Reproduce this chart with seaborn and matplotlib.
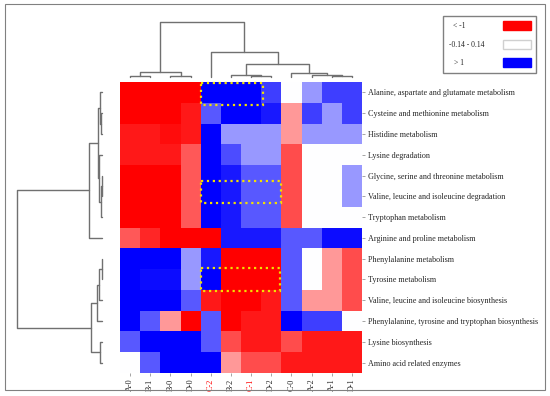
import numpy as np
import pandas as pd
import matplotlib
matplotlib.use("Agg")
import matplotlib.pyplot as plt
import seaborn as sns
from matplotlib.colors import LinearSegmentedColormap
from matplotlib.patches import Patch, Rectangle

sns.set_style("white")
plt.rcParams["font.family"] = ["Liberation Serif", "DejaVu Serif"]

col_labels = ["A-0", "B-1", "B-0", "D-0", "C-2", "B-2", "C-1", "D-2", "C-0", "A-2", "A-1", "D-1"]
red_cols = ["C-2", "C-1"]
row_labels = [
    "Alanine, aspartate and glutamate metabolism",
    "Cysteine and methionine metabolism",
    "Histidine metabolism",
    "Lysine degradation",
    "Glycine, serine and threonine metabolism",
    "Valine, leucine and isoleucine degradation",
    "Tryptophan metabolism",
    "Arginine and proline metabolism",
    "Phenylalanine metabolism",
    "Tyrosine metabolism",
    "Valine, leucine and isoleucine biosynthesis",
    "Phenylalanine, tyrosine and tryptophan biosynthesis",
    "Lysine biosynthesis",
    "Amino acid related enzymes",
]
values = [
    [-1, -1, -1, -1, 1, 1, 1, 0.75, 0, 0.4, 0.75, 0.75],
    [-1, -1, -1, -0.9, 0.65, 1, 1, 0.9, -0.4, 0.75, 0.4, 0.75],
    [-0.9, -0.9, -0.95, -0.9, 1, 0.4, 0.4, 0.4, -0.4, 0.4, 0.4, 0.4],
    [-0.9, -0.9, -0.9, -0.65, 1, 0.7, 0.4, 0.4, -0.7, 0, 0, 0],
    [-1, -1, -1, -0.65, 1, 0.9, 0.65, 0.65, -0.7, 0, 0, 0.4],
    [-1, -1, -1, -0.65, 1, 0.9, 0.65, 0.65, -0.7, 0, 0, 0.4],
    [-1, -1, -1, -0.65, 1, 0.9, 0.65, 0.65, -0.7, 0, 0, 0],
    [-0.65, -0.85, -1, -1, -1, 0.9, 0.9, 0.9, 0.65, 0.65, 0.95, 0.95],
    [1, 1, 1, 0.4, 0.9, -1, -1, -1, 0.65, 0, -0.4, -0.7],
    [1, 0.95, 0.95, 0.4, 1, -1, -1, -1, 0.65, 0, -0.4, -0.7],
    [1, 1, 1, 0.65, -0.9, -1, -1, -0.9, 0.65, -0.4, -0.4, -0.7],
    [1, 0.65, -0.4, -1, 0.65, -1, -0.9, -0.9, 1, 0.75, 0.75, 0],
    [0.65, 1, 1, 1, 0.65, -0.7, -0.9, -0.9, -0.7, -0.9, -0.9, -0.9],
    [0, 0.65, 1, 1, 1, -0.4, -0.7, -0.7, -0.9, -0.9, -0.9, -0.9],
]

# linkage: (child a, child b, height), new cluster ids continue after the leaves
row_merges = [
    (1, 2, 0.01), (0, 14, 0.02), (4, 5, 0.005), (16, 6, 0.015), (3, 17, 0.03),
    (15, 18, 0.05), (19, 7, 0.15), (8, 9, 0.005), (21, 10, 0.035), (22, 11, 0.06),
    (12, 13, 0.02), (23, 24, 0.13), (20, 25, 1.0),
]
col_merges = [
    (0, 1, 0.01), (2, 3, 0.01), (12, 13, 0.09), (6, 7, 0.02), (5, 15, 0.04),
    (10, 11, 0.02), (9, 17, 0.04), (8, 18, 0.08), (16, 19, 0.24), (4, 20, 0.45),
    (14, 21, 1.0),
]

legend_labels = ["< -1", "-0.14 - 0.14", "> 1"]


def dendro_lines(merges, n):
    pos = {i: i + 0.5 for i in range(n)}
    hgt = {i: 0.0 for i in range(n)}
    segs = []
    for k, (a, b, h) in enumerate(merges):
        segs.append(([pos[a], pos[a], pos[b], pos[b]], [hgt[a], h, h, hgt[b]]))
        pos[n + k] = (pos[a] + pos[b]) / 2
        hgt[n + k] = h
    return segs


W, H = 550, 396
fig = plt.figure(figsize=(W / 100, H / 100), dpi=100)

df = pd.DataFrame(values, index=row_labels, columns=col_labels)
cmap = LinearSegmentedColormap.from_list("rwb", ["#ff0000", "#ffffff", "#0000ff"])

ax = fig.add_axes([120 / W, 23 / H, 242 / W, 291 / H])
sns.heatmap(df, ax=ax, cmap=cmap, vmin=-1, vmax=1, cbar=False)
ax.yaxis.tick_right()
ax.set_yticks(np.arange(len(row_labels)) + 0.5)
ax.set_yticklabels(row_labels, rotation=0, fontsize=5.9)
ax.set_xticks(np.arange(len(col_labels)) + 0.5)
ax.set_xticklabels(col_labels, rotation=90, fontsize=5.9)
ax.tick_params(bottom=True, right=True, left=False, length=2.5, width=0.5,
               color="gray", pad=1.5)
for lab in ax.get_xticklabels():
    if lab.get_text() in red_cols:
        lab.set_color("red")

# yellow dotted highlight boxes
for x0, y0, w, h in [(4, 0.05, 3.1, 1.05), (4, 4.76, 4, 1.06), (4, 8.94, 3.95, 1.1)]:
    ax.add_patch(Rectangle((x0, y0), w, h, fill=False, ls=":", lw=1.6,
                           ec="#f2e000", clip_on=False))

# column dendrogram
cax = fig.add_axes([120 / W, (H - 77) / H, 242 / W, 55 / H])
for xs, ys in dendro_lines(col_merges, len(col_labels)):
    cax.plot(xs, ys, color="#707070", lw=1.0, clip_on=False)
cax.set_xlim(0, len(col_labels))
cax.set_ylim(0, 1)
cax.axis("off")

# row dendrogram
rax = fig.add_axes([17 / W, 23 / H, 85 / W, 291 / H])
for ps, hs in dendro_lines(row_merges, len(row_labels)):
    rax.plot(hs, ps, color="#707070", lw=1.0, clip_on=False)
rax.set_xlim(1, 0)
rax.set_ylim(len(row_labels), 0)
rax.axis("off")

handles = [Patch(facecolor="#ff0000", edgecolor="#ff0000"),
           Patch(facecolor="white", edgecolor="#d0d0d0"),
           Patch(facecolor="#0000ff", edgecolor="#0000ff")]
# trailing spaces push the short labels left, like the original box
pad = {"< -1": " " * 10, "> 1": " " * 11}
shown = [lab + pad.get(lab, "") for lab in legend_labels]
fig.legend(handles, shown, loc="upper right",
           bbox_to_anchor=(540 / W, (H - 12) / H), markerfirst=False,
           fancybox=False, edgecolor="gray", framealpha=1, fontsize=5.5,
           handlelength=3.7, handleheight=1.5, labelspacing=1.2,
           handletextpad=2.4, borderpad=0.7)

fig.add_artist(Rectangle((5 / W, 6 / H), 540 / W, 386 / H, transform=fig.transFigure,
                         fill=False, ec="gray", lw=0.8))

fig.savefig("out.png", dpi=100)
